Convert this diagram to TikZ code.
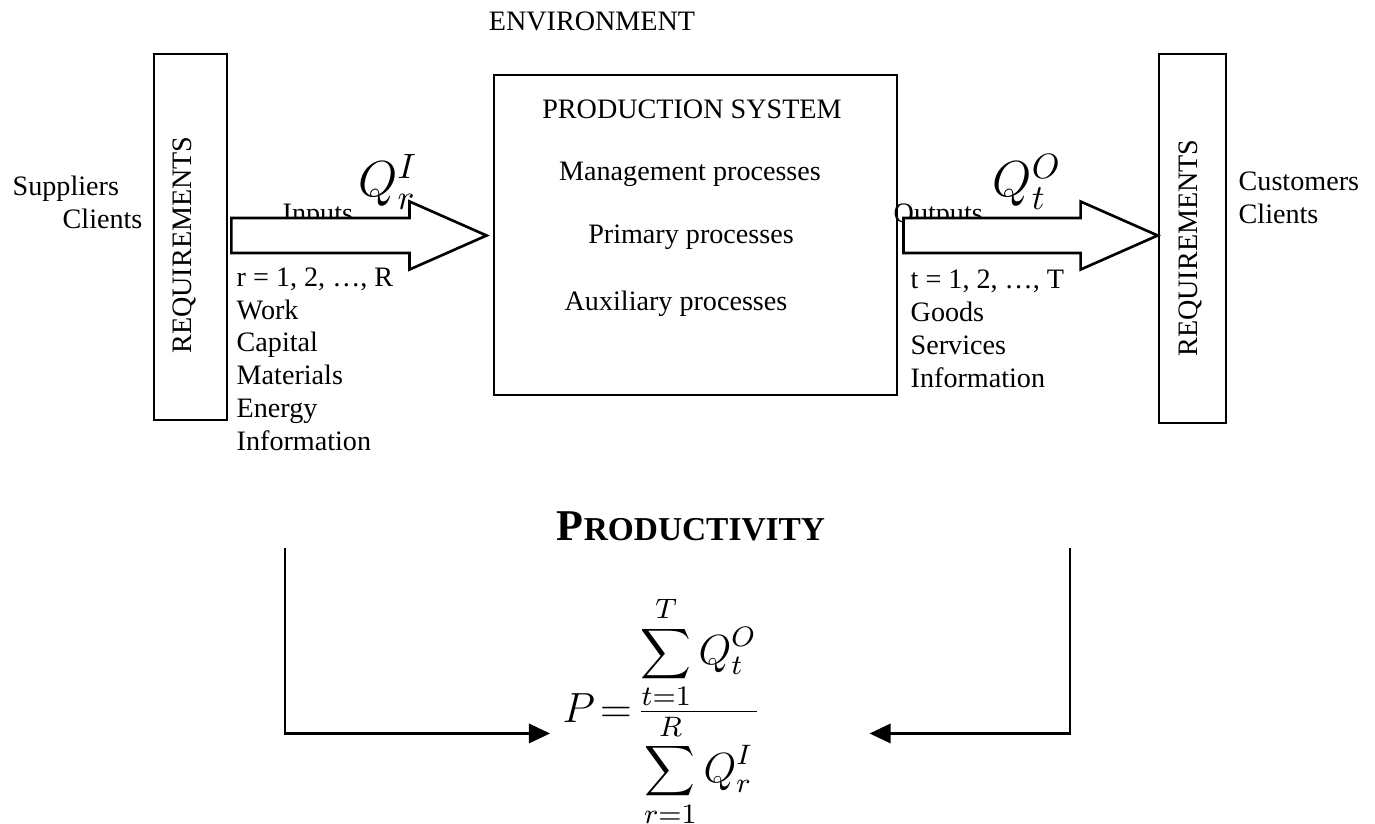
\documentclass[tikz,border=0pt]{standalone}
\usepackage{fontspec}
\setmainfont{Liberation Serif}
\usetikzlibrary{arrows.meta,calc}

% wide hollow arrow from a start point to a tip
\newcommand{\blockarrow}[2]{%
  \draw[blockarr] ($(#1)+(0,-17.5)$) -- ($(#2)+(-77,-17.5)$)
    -- ($(#2)+(-77,-34)$) -- (#2) -- ($(#2)+(-77,34)$)
    -- ($(#2)+(-77,17.5)$) -- ($(#1)+(0,17.5)$) -- cycle;}

\begin{document}
\begin{tikzpicture}[
  x=0.01cm, y=-0.01cm,
  txt/.style={inner sep=0pt, font=\fontsize{8}{9.3}\selectfont},
  reqbox/.style={rectangle, draw, line width=0.75pt, inner sep=0pt},
  sysbox/.style={rectangle, draw, line width=0.75pt, inner sep=0pt,
                 minimum width=4.03cm, minimum height=3.2cm},
  blockarr/.style={draw, line width=0.75pt, fill=white, line join=miter},
  quant/.style={inner sep=0pt, font=\fontsize{14.5}{16}\selectfont},
  link/.style={-{Triangle[length=6pt,width=5.5pt]}, line width=0.7pt},
]
  \useasboundingbox (0,0) rectangle (1375,823);

  % Environment and the three boxes
  \node[txt, anchor=base] (env) at (592,30) {ENVIRONMENT};
  \node[reqbox, minimum width=0.73cm, minimum height=3.66cm] (reqL) at (190.5,237) {};
  \node[reqbox, minimum width=0.67cm, minimum height=3.69cm] (reqR) at (1192.5,238.5) {};
  \node[txt, rotate=90] (reqLtxt) at (184,245) {REQUIREMENTS};
  \node[txt, rotate=90] (reqRtxt) at (1190,248) {REQUIREMENTS};

  % Suppliers / customers
  \node[txt, anchor=base west] (supp) at (12,195) {Suppliers};
  \node[txt, anchor=base west] (suppcl) at (62,228) {Clients};
  \node[txt, anchor=base west] (cust) at (1238,190) {Customers};
  \node[txt, anchor=base west] (custcl) at (1238,223) {Clients};

  % Production system
  \node[txt, anchor=base west] (outlbl) at (893,222) {Outputs};
  \node[sysbox] (prod) at (695.5,235) {};
  \node[txt, anchor=base] (psys) at (692,118) {PRODUCTION SYSTEM};
  \node[txt, anchor=base] (mgmt) at (690,180) {Management processes};
  \node[txt, anchor=base] (prim) at (691,243) {Primary processes};
  \node[txt, anchor=base] (aux) at (676,310) {Auxiliary processes};

  % Inputs and outputs (lists anchored on their last line)
  \node[txt, anchor=base west] (inlbl) at (282,222) {Inputs};
  \coordinate (inS) at ($(reqL.east)+(3,-1.5)$);
  \coordinate (inT) at ($(prod.west |- inS)+(-6,0)$);
  \coordinate (outS) at ($(prod.east |- inS)+(5,0)$);
  \coordinate (outT) at (reqR.west |- inS);
  \blockarrow{inS}{inT}
  \blockarrow{outS}{outT}
  \node[quant] (qin) at (388,182) {$Q_r^I$};
  \node[quant] (qout) at (1027,182) {$Q_t^O$};
  \node[txt, align=left, anchor=base west] (inlist) at (236,450)
    {r = 1, 2, …, R\\Work\\Capital\\Materials\\Energy\\Information};
  \node[txt, align=left, anchor=base west] (outlist) at (910,387)
    {t = 1, 2, …, T\\Goods\\Services\\Information};

  % Productivity
  \node[inner sep=0pt, anchor=base, font=\bfseries\fontsize{12.5}{14}\selectfont]
    (ptitle) at (691,540) {P{\fontsize{9.5}{11}\selectfont RODUCTIVITY}};
  \node[inner sep=0pt, anchor=base west, font=\fontsize{12}{14}\selectfont]
    (pform) at (562,722)
    {$P\mkern2mu{=}\mkern2mu\frac{\displaystyle\sum_{t=1}^{T}Q_t^O}{\displaystyle\sum_{r=1}^{R}Q_r^I}$};
  \coordinate (lstart) at (285,548);
  \coordinate (rstart) at (1070,548);
  \draw[link] (lstart) |- ($(pform.west)+(-12,22)$);
  \draw[link] (rstart) |- ($(pform.east)+(108,22)$);
\end{tikzpicture}
\end{document}
